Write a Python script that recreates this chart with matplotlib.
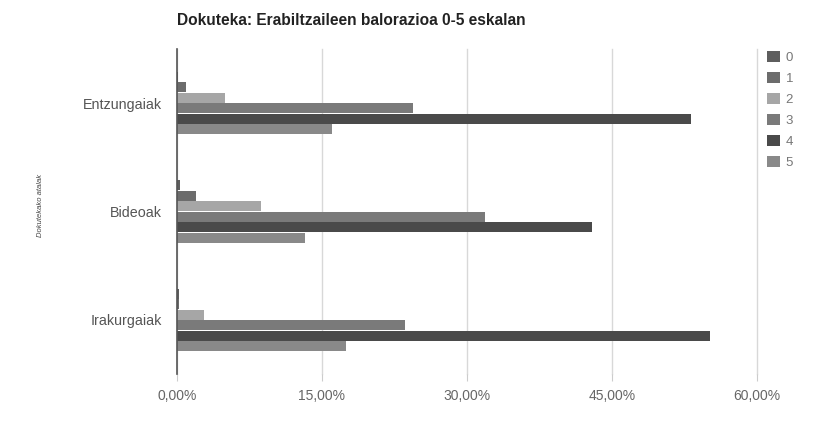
import matplotlib
matplotlib.use("Agg")
import matplotlib.pyplot as plt
import numpy as np
from matplotlib.ticker import FuncFormatter

plt.rcParams["font.family"] = ["Liberation Sans", "DejaVu Sans"]

categories = ["Entzungaiak", "Bideoak", "Irakurgaiak"]
ratings = ["0", "1", "2", "3", "4", "5"]
values = {
    "0": [0.1, 0.35, 0.2],
    "1": [0.95, 1.95, 0.2],
    "2": [4.95, 8.7, 2.8],
    "3": [24.4, 31.9, 23.6],
    "4": [53.2, 42.9, 55.1],
    "5": [16.0, 13.3, 17.5],
}
xticks = [0, 15, 30, 45, 60]
colors = ["#5e5e5e", "#6c6c6c", "#a6a6a6", "#7a7a7a", "#4a4a4a", "#898989"]

fig = plt.figure(figsize=(8.15, 4.29), dpi=100)
ax = fig.add_axes([0.217, 0.128, 0.712, 0.758])

bh = 0.097
y = np.arange(len(categories))
for i, r in enumerate(ratings):
    offs = (i - 2.5) * bh
    ax.barh(y + offs, values[r], height=bh * 0.95, color=colors[i], label=r, zorder=3)

ax.set_ylim(2.5, -0.5)
ax.set_xlim(0, 60)
ax.set_yticks(y)
ax.set_yticklabels(categories, fontsize=10.3, color="#555555")
ax.set_xticks(xticks)
ax.xaxis.set_major_formatter(FuncFormatter(lambda v, p: f"{v:.2f}%".replace(".", ",")))
ax.tick_params(axis="x", labelsize=10, labelcolor="#666666", length=5, color="#cccccc", pad=6)
ax.tick_params(axis="y", length=0, pad=11)
ax.grid(axis="x", color="#d8d8d8", linewidth=1, zorder=0)
for gl in ax.get_xgridlines():
    gl.set_clip_on(False)
for s in ["top", "right", "bottom"]:
    ax.spines[s].set_visible(False)
ax.spines["left"].set_color("#555555")
ax.spines["left"].set_linewidth(1.2)
ax.spines["left"].set_zorder(4)

fig.text(0.217, 0.953, "Dokuteka: Erabiltzaileen balorazioa 0-5 eskalan",
         fontsize=11.2, fontweight="bold", color="#222222", va="center", ha="left")
fig.text(0.050, 0.52, "Dokutekako atalak", rotation=90, fontsize=5.5, style="italic",
         color="#444444", va="center", ha="center")

leg = fig.legend(loc="upper left", bbox_to_anchor=(767 / 815, 1 - 51 / 429),
                 bbox_transform=fig.transFigure, frameon=False,
                 fontsize=9.5, handlelength=1.0, handleheight=0.85, labelspacing=0.62,
                 handletextpad=0.4, borderaxespad=0, borderpad=0)
for t in leg.get_texts():
    t.set_color("#777777")

fig.savefig("out.png", dpi=100)
